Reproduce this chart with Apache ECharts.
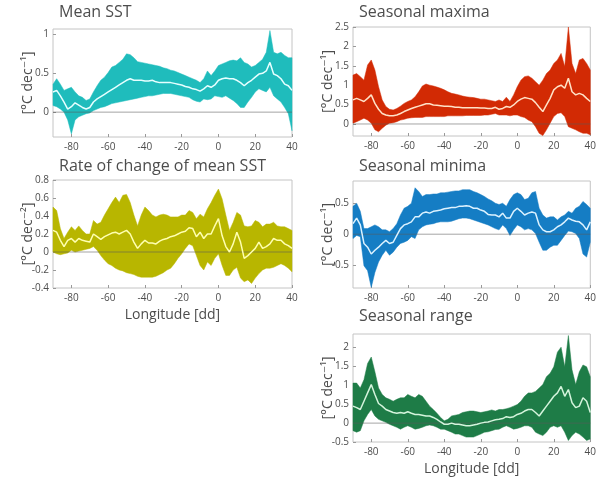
<!DOCTYPE html>
<html>
<head>
<meta charset="utf-8">
<script src="https://cdn.jsdelivr.net/npm/echarts@6/dist/echarts.min.js"></script>
<style>
html,body{margin:0;padding:0;background:#fff;}
#c{width:599px;height:481px;}
</style>
</head>
<body>
<div id="c"></div>
<script>
// Longitude samples [dd]
const lon = [-90,-88,-86,-84,-82,-80,-78,-76,-74,-72,-70,
             -68,-66,-64,-62,-60,-58,-56,-54,-52,-50,-48,
             -46,-44,-42,-40,-38,-36,-34,-32,-30,-28,-26,
             -24,-22,-20,-18,-16,-14,-12,-10,-8,-6,-4,
             -2,0,2,4,6,8,10,12,14,16,18,
             20,22,24,26,28,30,32,34,36,38,40];
const xTicks = [-80,-60,-40,-20,0,20,40];

// Mean SST trend [°C dec-1]
const meanHi = [0.36,0.43,0.36,0.28,0.30,0.32,0.26,0.21,0.19,0.15,0.17,
  0.26,0.34,0.41,0.45,0.51,0.58,0.60,0.64,0.68,0.75,0.74,
  0.70,0.65,0.64,0.63,0.62,0.61,0.60,0.59,0.57,0.56,0.54,
  0.53,0.51,0.49,0.47,0.45,0.43,0.41,0.38,0.43,0.53,0.47,
  0.53,0.60,0.62,0.64,0.66,0.67,0.66,0.70,0.64,0.62,0.58,
  0.60,0.64,0.68,0.77,1.05,0.77,0.75,0.77,0.73,0.70,0.70];
const meanMid = [0.26,0.28,0.21,0.13,0.04,0.07,0.12,0.09,0.06,0.04,0.06,
  0.13,0.17,0.20,0.23,0.26,0.29,0.32,0.35,0.38,0.41,0.43,
  0.41,0.41,0.41,0.40,0.40,0.41,0.39,0.38,0.38,0.38,0.38,
  0.37,0.36,0.35,0.33,0.32,0.30,0.29,0.27,0.30,0.34,0.32,
  0.35,0.41,0.43,0.44,0.43,0.43,0.41,0.38,0.34,0.38,0.41,
  0.45,0.49,0.50,0.53,0.64,0.49,0.47,0.43,0.36,0.34,0.28];
const meanLo = [0.085,0.07,0.04,0.00,-0.10,-0.28,-0.10,-0.06,-0.04,-0.02,-0.01,
  0.02,0.04,0.06,0.07,0.09,0.11,0.12,0.13,0.14,0.15,0.16,
  0.17,0.18,0.19,0.20,0.21,0.21,0.22,0.23,0.24,0.24,0.24,
  0.23,0.22,0.21,0.20,0.19,0.16,0.14,0.13,0.17,0.16,0.17,
  0.21,0.20,0.19,0.21,0.18,0.15,0.11,0.06,0.06,0.13,0.19,
  0.26,0.30,0.28,0.26,0.32,0.21,0.17,0.13,0.06,-0.02,-0.24];

// Seasonal maxima trend
const maxHi = [1.26,1.30,1.22,1.13,1.52,1.65,1.39,0.96,0.62,0.45,0.38,
  0.36,0.40,0.46,0.53,0.58,0.62,0.70,0.83,0.98,1.03,1.00,
  0.98,0.95,0.92,0.88,0.83,0.79,0.77,0.75,0.72,0.70,0.69,
  0.68,0.66,0.64,0.64,0.62,0.60,0.58,0.62,0.58,0.69,0.58,
  0.75,0.96,1.13,1.22,1.24,1.18,1.09,1.00,1.13,1.30,1.39,
  1.56,1.65,1.82,1.48,2.50,1.56,1.30,1.65,1.69,1.56,1.39];
const maxMid = [0.62,0.66,0.62,0.58,0.66,0.75,0.53,0.38,0.27,0.23,0.21,
  0.21,0.23,0.27,0.32,0.36,0.40,0.43,0.46,0.49,0.52,0.52,
  0.49,0.48,0.47,0.46,0.46,0.45,0.43,0.43,0.42,0.42,0.42,
  0.42,0.42,0.41,0.41,0.40,0.40,0.43,0.38,0.40,0.45,0.43,
  0.49,0.58,0.64,0.68,0.66,0.64,0.55,0.43,0.32,0.49,0.66,
  0.88,0.96,1.00,0.92,1.18,0.83,0.75,0.79,0.75,0.66,0.58];
const maxLo = [0.02,0.06,0.10,0.15,0.10,0.02,-0.15,-0.20,-0.11,-0.03,0.02,
  0.03,0.06,0.10,0.12,0.15,0.16,0.17,0.17,0.17,0.19,0.19,
  0.19,0.19,0.19,0.19,0.21,0.21,0.21,0.21,0.21,0.22,0.22,
  0.22,0.22,0.22,0.23,0.23,0.25,0.27,0.23,0.23,0.23,0.21,
  0.23,0.23,0.19,0.17,0.10,0.06,-0.07,-0.24,-0.30,-0.15,0.02,
  0.19,0.27,0.29,0.19,-0.07,-0.11,-0.15,-0.20,-0.24,-0.24,-0.28];

// Rate of change of mean SST [°C dec-2]
const rateHi = [0.50,0.46,0.26,0.15,0.22,0.28,0.24,0.29,0.24,0.20,0.20,
  0.35,0.31,0.33,0.41,0.48,0.55,0.61,0.55,0.63,0.64,0.55,
  0.41,0.29,0.41,0.50,0.46,0.41,0.39,0.41,0.42,0.41,0.39,
  0.39,0.39,0.41,0.41,0.46,0.44,0.37,0.42,0.39,0.48,0.55,
  0.63,0.70,0.59,0.41,0.24,0.33,0.44,0.41,0.29,0.28,0.29,
  0.35,0.33,0.28,0.31,0.31,0.33,0.29,0.28,0.28,0.26,0.24];
const rateMid = [0.24,0.22,0.13,0.06,0.13,0.15,0.11,0.15,0.13,0.12,0.11,
  0.20,0.17,0.14,0.17,0.19,0.21,0.22,0.20,0.22,0.24,0.20,
  0.11,0.04,0.09,0.13,0.10,0.10,0.09,0.12,0.14,0.15,0.17,
  0.18,0.20,0.22,0.23,0.27,0.26,0.17,0.22,0.15,0.20,0.20,
  0.29,0.37,0.18,0.06,0.00,0.09,0.22,0.11,-0.07,-0.04,0.00,
  0.04,0.11,0.04,0.06,0.09,0.15,0.13,0.13,0.09,0.07,0.04];
const rateLo = [0.00,-0.02,-0.03,-0.02,-0.01,0.02,0.00,0.01,0.02,0.03,0.04,
  0.06,0.02,-0.04,-0.09,-0.13,-0.15,-0.18,-0.20,-0.21,-0.23,-0.24,
  -0.25,-0.27,-0.28,-0.28,-0.28,-0.28,-0.27,-0.25,-0.23,-0.20,-0.18,
  -0.13,-0.07,-0.02,0.04,0.09,0.07,-0.04,-0.15,-0.20,-0.11,-0.15,
  -0.07,-0.02,-0.15,-0.26,-0.26,-0.20,-0.17,-0.29,-0.33,-0.31,-0.35,
  -0.29,-0.24,-0.20,-0.18,-0.18,-0.17,-0.15,-0.13,-0.15,-0.18,-0.22];

// Seasonal minima trend
const minHi = [0.45,0.50,0.37,0.09,0.09,0.12,0.15,0.12,0.07,0.07,0.04,
  0.09,0.17,0.31,0.42,0.45,0.50,0.75,0.69,0.61,0.64,0.64,
  0.65,0.65,0.67,0.67,0.68,0.69,0.70,0.70,0.72,0.72,0.72,
  0.69,0.67,0.64,0.61,0.57,0.54,0.50,0.48,0.50,0.45,0.56,
  0.64,0.67,0.64,0.56,0.58,0.67,0.69,0.42,0.31,0.26,0.28,
  0.28,0.23,0.28,0.31,0.37,0.34,0.42,0.45,0.53,0.48,0.42];
const minMid = [0.17,0.26,0.15,-0.15,-0.21,-0.32,-0.26,-0.21,-0.15,-0.10,-0.15,
  -0.13,-0.02,0.09,0.15,0.17,0.20,0.28,0.28,0.34,0.36,0.34,
  0.37,0.38,0.39,0.41,0.42,0.43,0.43,0.45,0.45,0.46,0.45,
  0.42,0.42,0.39,0.37,0.32,0.31,0.31,0.28,0.34,0.26,0.26,
  0.37,0.42,0.37,0.31,0.34,0.36,0.34,0.15,0.07,0.04,0.04,
  0.07,0.12,0.15,0.20,0.26,0.23,0.21,0.20,0.15,0.07,0.20];
const minLo = [-0.07,-0.02,-0.04,-0.51,-0.59,-0.86,-0.62,-0.45,-0.34,-0.26,-0.34,
  -0.29,-0.21,-0.15,-0.13,-0.10,-0.04,-0.07,0.07,0.12,0.15,0.16,
  0.17,0.19,0.20,0.20,0.20,0.21,0.23,0.25,0.26,0.26,0.25,
  0.23,0.21,0.19,0.17,0.15,0.12,0.09,0.07,0.15,0.09,-0.02,
  0.07,0.15,0.12,0.07,0.09,0.07,0.01,-0.13,-0.26,-0.26,-0.21,
  -0.18,-0.18,-0.10,-0.02,0.05,0.04,0.01,-0.07,-0.32,-0.37,-0.13];

// Seasonal range trend
const rngHi = [1.06,1.06,0.93,1.15,1.58,1.75,1.36,0.93,0.76,0.67,0.63,
  0.58,0.63,0.67,0.67,0.76,0.71,0.67,0.76,0.71,0.58,0.45,
  0.36,0.26,0.15,0.06,0.10,0.19,0.21,0.23,0.28,0.30,0.32,
  0.32,0.30,0.28,0.30,0.32,0.35,0.32,0.36,0.36,0.38,0.41,
  0.45,0.49,0.58,0.71,0.80,0.80,0.84,0.93,1.02,1.23,1.32,
  1.49,1.88,2.01,1.49,2.32,1.41,1.02,1.36,1.54,1.49,1.23];
const rngMid = [0.45,0.41,0.36,0.58,0.80,1.02,0.76,0.52,0.45,0.36,0.32,
  0.28,0.26,0.28,0.26,0.30,0.26,0.23,0.23,0.21,0.19,0.19,
  0.15,0.10,0.03,-0.03,-0.03,0.00,-0.03,-0.03,-0.05,-0.07,-0.07,
  -0.05,-0.03,0.00,0.02,0.03,0.06,0.09,0.10,0.12,0.17,0.15,
  0.17,0.23,0.26,0.32,0.36,0.36,0.28,0.19,0.32,0.45,0.58,
  0.71,0.80,0.97,0.71,0.89,0.54,0.41,0.45,0.67,0.58,0.28];
const rngLo = [-0.20,-0.24,-0.20,0.06,0.23,0.36,0.19,0.10,0.06,0.02,-0.03,
  -0.07,-0.11,-0.16,-0.11,-0.07,-0.11,-0.16,-0.14,-0.11,-0.07,-0.05,
  -0.07,-0.11,-0.16,-0.16,-0.20,-0.24,-0.29,-0.29,-0.33,-0.37,-0.37,
  -0.37,-0.33,-0.29,-0.24,-0.23,-0.20,-0.17,-0.16,-0.11,-0.07,-0.11,
  -0.16,-0.14,-0.11,-0.07,-0.07,-0.11,-0.24,-0.29,-0.33,-0.24,-0.11,
  -0.07,-0.11,-0.07,-0.24,-0.46,-0.33,-0.24,-0.29,-0.37,-0.46,-0.42];

const titles = ['Mean SST','Seasonal maxima','Rate of change of mean SST','Seasonal minima','Seasonal range'];
const yNames = ['[°C dec⁻¹]','[°C dec⁻¹]','[°C dec⁻²]','[°C dec⁻¹]','[°C dec⁻¹]'];
const yTicks = [[0,0.5,1],[0,0.5,1,1.5,2,2.5],[-0.4,-0.2,0,0.2,0.4,0.6,0.8],[-0.5,0,0.5],[-0.5,0,0.5,1,1.5,2]];
const xName = 'Longitude [dd]';

const panels = [
  {lo:meanLo, mid:meanMid, hi:meanHi, band:'#1fbcbc', line:'#e6ffff', yMin:-0.32, yMax:1.07,
   grid:{left:53, top:29, width:239, height:108}, title:{left:59, top:4}, xn:false},
  {lo:maxLo, mid:maxMid, hi:maxHi, band:'#d22a04', line:'#ffe2c8', yMin:-0.31, yMax:2.5,
   grid:{left:353, top:27, width:239, height:109}, title:{left:359, top:4}, xn:false},
  {lo:rateLo, mid:rateMid, hi:rateHi, band:'#b8b600', line:'#ffffb0', yMin:-0.4, yMax:0.8,
   grid:{left:53, top:180, width:239, height:108}, title:{left:59, top:158}, xn:true},
  {lo:minLo, mid:minMid, hi:minHi, band:'#157dc4', line:'#dcf2ff', yMin:-0.87, yMax:0.86,
   grid:{left:353, top:181, width:239, height:107}, title:{left:359, top:158}, xn:false},
  {lo:rngLo, mid:rngMid, hi:rngHi, band:'#1e7c47', line:'#d4f4dc', yMin:-0.5, yMax:2.36,
   grid:{left:353, top:334, width:239, height:108}, title:{left:359, top:308}, xn:true}
];

const FONT = '"Open Sans", "DejaVu Sans", sans-serif';
const txt = '#4d4d4d';
const option = {
  animation:false,
  backgroundColor:'#fff',
  title:[], grid:[], xAxis:[], yAxis:[], series:[]
};

panels.forEach((p,i)=>{
  option.title.push({text:titles[i], left:p.title.left, top:p.title.top, padding:0,
    textStyle:{fontFamily:FONT, fontSize:16, fontWeight:'normal', color:txt}});
  option.grid.push(Object.assign({show:true, borderColor:'#c4c4c4', borderWidth:1, backgroundColor:'transparent'}, p.grid));
  option.xAxis.push({type:'value', gridIndex:i, min:-90, max:40,
    name: p.xn ? xName : '', nameLocation:'middle', nameGap:20, nameMoveOverlap:false,
    nameTextStyle:{fontFamily:FONT, fontSize:14, color:txt},
    axisLine:{show:false, onZero:false},
    axisTick:{show:true, inside:true, length:3, customValues:xTicks, lineStyle:{color:'#999'}},
    axisLabel:{customValues:xTicks, fontFamily:FONT, fontSize:10, color:txt, margin:5},
    splitLine:{show:false}});
  option.yAxis.push({type:'value', gridIndex:i, min:p.yMin, max:p.yMax,
    name:yNames[i], nameLocation:'middle', nameRotate:90, nameGap:18, nameMoveOverlap:false,
    nameTextStyle:{fontFamily:FONT, fontSize:14, color:txt},
    axisLine:{show:false, onZero:false},
    axisTick:{show:true, inside:true, length:3, customValues:yTicks[i], lineStyle:{color:'#999'}},
    axisLabel:{customValues:yTicks[i], fontFamily:FONT, fontSize:10, color:txt, margin:4},
    splitLine:{show:false}});
  // confidence band: one polygon through the axis scales
  option.series.push({type:'custom', xAxisIndex:i, yAxisIndex:i, z:2, silent:true,
    encode:{x:0, y:[1,2]},
    data: lon.map((x,j)=>[x, p.lo[j], p.hi[j]]),
    renderItem:(params, api)=>{
      if (params.dataIndex !== 0) return null;
      const pts = [];
      for (let j=0;j<lon.length;j++) pts.push(api.coord([lon[j], p.hi[j]]));
      for (let j=lon.length-1;j>=0;j--) pts.push(api.coord([lon[j], p.lo[j]]));
      const cs = params.coordSys;
      return {type:'polygon', shape:{points: echarts.graphic.clipPointsByRect(pts, {x:cs.x, y:cs.y, width:cs.width, height:cs.height})},
        style:{fill:p.band, stroke:p.band, lineWidth:0.5}};
    }});
  // zero line
  option.series.push({type:'line', xAxisIndex:i, yAxisIndex:i, z:3, symbol:'none', silent:true,
    lineStyle:{color:'rgba(90,90,90,0.55)', width:1}, data:[[-90,0],[40,0]]});
  // mean trend
  option.series.push({type:'line', xAxisIndex:i, yAxisIndex:i, z:5,
    symbol:'none', silent:true, lineStyle:{width:1.5, color:p.line},
    data: lon.map((x,j)=>[x, p.mid[j]])});
});

const chart = echarts.init(document.getElementById('c'), null, {renderer:'canvas'});
chart.setOption(option);
</script>
</body>
</html>
